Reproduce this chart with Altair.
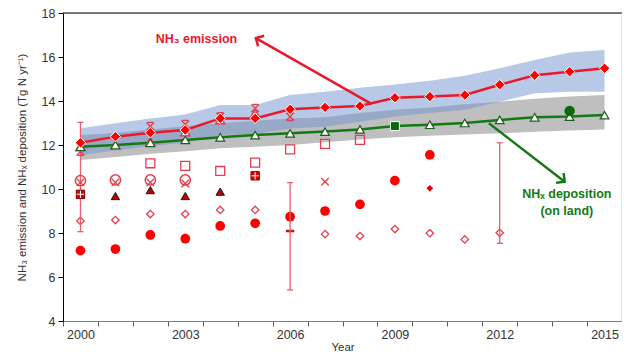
import math
import altair as alt
import pandas as pd

# ---------------- data ----------------
years = list(range(2000, 2016))
nh3_emission = [12.10, 12.38, 12.56, 12.68, 13.21, 13.21, 13.62, 13.71,
                13.77, 14.15, 14.20, 14.27, 14.74, 15.17, 15.33, 15.49]
nhx_deposition = [11.92, 12.00, 12.10, 12.23, 12.35, 12.45, 12.53, 12.61,
                  12.71, 12.86, 12.92, 13.00, 13.14, 13.26, 13.29, 13.36]
emis_hi = [12.76, 12.99, 13.21, 13.39, 13.82, 13.82, 14.27, 14.42,
           14.60, 14.75, 14.92, 15.15, 15.49, 15.86, 16.20, 16.32]
emis_lo = [11.55, 11.75, 11.95, 12.10, 12.45, 12.50, 12.75, 12.83,
           13.06, 13.30, 13.45, 13.60, 13.97, 14.35, 14.42, 14.42]
depo_hi = [12.45, 12.55, 12.70, 12.85, 12.99, 13.10, 13.20, 13.26,
           13.45, 13.60, 13.70, 13.85, 13.97, 14.10, 14.20, 14.27]
depo_lo = [11.32, 11.45, 11.60, 11.72, 11.85, 11.92, 12.00, 12.12,
           12.25, 12.35, 12.42, 12.48, 12.53, 12.60, 12.66, 12.71]

open_tri_years = [2000, 2001, 2002, 2003, 2004, 2005]
open_tri_vals = [11.92, 12.00, 12.15, 12.60, 13.14, 13.44]

aster_years = [2000, 2002, 2003, 2004, 2005, 2006]
aster_vals = [11.70, 12.85, 12.94, 13.29, 13.67, 13.29]

open_circ_years = [2000, 2001, 2002, 2003]
open_circ_vals = [10.38, 10.41, 10.41, 10.41]

xmark_years = [2000, 2001, 2002, 2003, 2007]
xmark_vals = [10.30, 10.30, 10.30, 10.25, 10.33]

open_sq_years = [2002, 2003, 2004, 2005, 2006, 2007, 2008]
open_sq_vals = [11.17, 11.05, 10.82, 11.20, 11.80, 12.05, 12.23]

fill_sq_years = [2000, 2005]
fill_sq_vals = [9.76, 10.60]

dark_tri_years = [2000, 2001, 2002, 2003, 2004]
dark_tri_vals = [9.76, 9.68, 9.95, 9.68, 9.88]

open_dia_years = [2000, 2001, 2002, 2003, 2004, 2005, 2007, 2008, 2009, 2010, 2011, 2012]
open_dia_vals = [8.55, 8.59, 8.86, 8.86, 9.05, 9.05, 7.95, 7.86, 8.18, 7.99, 7.71, 8.01]

fill_circ_years = [2000, 2001, 2002, 2003, 2004, 2005, 2006, 2007, 2008, 2009, 2010]
fill_circ_vals = [7.20, 7.27, 7.91, 7.74, 8.32, 8.44, 8.74, 9.00, 9.30, 10.38, 11.55]

small_dia_years = [2010]
small_dia_vals = [10.03]

dash_years = [2006]
dash_vals = [8.09]

green_sq_years = [2009]
green_sq_vals = [12.86]

green_circ_years = [2014]
green_circ_vals = [13.55]

err_years = [2000, 2006, 2012]
err_lo = [8.06, 5.41, 7.53]
err_hi = [13.03, 10.29, 12.10]

# annotation anchors (data coordinates)
red_arrow = [2008.34, 13.86, 2005.02, 16.86]
green_arrow = [2011.69, 12.99, 2013.86, 10.33]
red_label = ["NH\u2083 emission", 2003.32, 16.80]
green_label = ["NH\u2093 deposition", "(on land)", 2013.92, 9.77, 9.00]

# ---------------- chart ----------------
W, H = 559, 308
X0, X1 = 1999.5, 2015.5
Y0, Y1 = 4, 18
FONT = "Liberation Sans"
RED = "#e8192c"
ORED = "#e2404c"
GREEN = "#137a13"

xs = alt.Scale(domain=[X0, X1], nice=False, zero=False)
ys = alt.Scale(domain=[Y0, Y1], nice=False, zero=False)

x_axis = alt.Axis(
    values=[X0 + i for i in range(17)],
    labelExpr="((datum.value + 0.5) % 3 == 2) ? toString(datum.value + 0.5) : ''",
    labelOffset=W / 16 / 2,
    labelFlush=False,
    labelOverlap=False,
    tickSize=5,
    grid=False,
    title="Year",
    titleFontSize=11.5,
    titleFontWeight="normal",
    titleColor="#333333",
    titleY=20,
    titleBaseline="top",
    labelFontSize=12.5,
    labelColor="#333333",
    labelPadding=2,
    domainColor="#7f7f7f",
    tickColor="#595959",
    labelFont=FONT,
    titleFont=FONT,
)
y_axis = alt.Axis(
    values=[4, 6, 8, 10, 12, 14, 16, 18],
    tickSize=5,
    grid=False,
    title="NH\u2083 emission and NH\u2093 deposition (Tg N yr\u207b\u00b9)",
    titleFontSize=11.5,
    titleFontWeight="normal",
    titleColor="#333333",
    titlePadding=14,
    labelFontSize=12.5,
    labelColor="#333333",
    labelPadding=3,
    domainColor="#000000",
    tickColor="#000000",
    labelFont=FONT,
    titleFont=FONT,
)


def X(field):
    return alt.X(field, type="quantitative", scale=xs, axis=x_axis)


def Y(field):
    return alt.Y(field, type="quantitative", scale=ys, axis=y_axis)


bands = pd.DataFrame({"year": years, "ehi": emis_hi, "elo": emis_lo,
                      "dhi": depo_hi, "dlo": depo_lo,
                      "emis": nh3_emission, "depo": nhx_deposition})

layers = []
layers.append(alt.Chart(bands).mark_area(color="#bfbfbf").encode(
    x=X("year"), y=Y("dhi"), y2="dlo"))
layers.append(alt.Chart(bands).mark_area(color="#6f93d0", opacity=0.5).encode(
    x=X("year"), y=Y("ehi"), y2="elo"))


def pts(yrs, vals, **kw):
    df = pd.DataFrame({"year": yrs, "v": vals})
    return alt.Chart(df).mark_point(**kw).encode(x=X("year"), y=Y("v"))


XPATH = "M-1,-1L1,1M-1,1L1,-1"
ASTER = "M-1,-1L1,1M-1,1L1,-1M-0.7,-1L0.7,-1M-0.7,1L0.7,1"
ARROW = "M-1,1L0,0L1,1"

# lower scatter groups
layers.append(pts(fill_circ_years, fill_circ_vals, shape="circle", filled=True,
                  color="#ff0000", size=95, opacity=1))
layers.append(pts(open_dia_years, open_dia_vals, shape="diamond", filled=False,
                  color=ORED, size=55, strokeWidth=1.3, opacity=1))
layers.append(pts(dash_years, dash_vals, shape="stroke", filled=False,
                  color="#c0101c", size=70, strokeWidth=2.5, opacity=1))

# error bars
err = pd.DataFrame({"year": err_years, "lo": err_lo, "hi": err_hi})
layers.append(alt.Chart(err).mark_rule(color="#e8606a", strokeWidth=1.3).encode(
    x=X("year"), y=Y("lo"), y2="hi"))
layers.append(alt.Chart(err).mark_point(shape="M-1,0L1,0", filled=False, color="#e8606a",
                                        size=36, strokeWidth=1.3, opacity=1).encode(
    x=X("year"), y=Y("lo")))
layers.append(alt.Chart(err).mark_point(shape="M-1,0L1,0", filled=False, color="#e8606a",
                                        size=36, strokeWidth=1.3, opacity=1).encode(
    x=X("year"), y=Y("hi")))

layers.append(pts(dark_tri_years, dark_tri_vals, shape="triangle-up", filled=True,
                  fill="#c00000", stroke="#1a1a1a", strokeWidth=1, size=70, opacity=1))
layers.append(pts(fill_sq_years, fill_sq_vals, shape="square", filled=True,
                  fill="#e00000", stroke="#900000", strokeWidth=1, size=70, opacity=1))
layers.append(pts(fill_sq_years, fill_sq_vals, shape="M-1,0L1,0M0,-1L0,1", filled=False,
                  stroke="#ffffff", strokeWidth=1, size=55, opacity=1))
layers.append(pts(open_sq_years, open_sq_vals, shape="square", filled=False,
                  color=ORED, size=80, strokeWidth=1.3, opacity=1))
layers.append(pts(open_circ_years, open_circ_vals, shape="circle", filled=False,
                  color=ORED, size=105, strokeWidth=1.5, opacity=1))
layers.append(pts(xmark_years, xmark_vals, shape=XPATH, filled=False,
                  color=ORED, size=55, strokeWidth=1.3, opacity=1))
layers.append(pts(small_dia_years, small_dia_vals, shape="diamond", filled=True,
                  color="#e00000", size=45, opacity=1))

# main lines
layers.append(alt.Chart(bands).mark_line(color=GREEN, strokeWidth=2.5).encode(
    x=X("year"), y=Y("depo")))
layers.append(alt.Chart(bands).mark_line(color=RED, strokeWidth=2.5).encode(
    x=X("year"), y=Y("emis")))

layers.append(pts(open_tri_years, open_tri_vals, shape="triangle-up", filled=True,
                  fill="#ffffff", stroke=ORED, strokeWidth=1.5, size=80, opacity=1))
layers.append(pts(aster_years, aster_vals, shape=ASTER, filled=False,
                  color=ORED, size=60, strokeWidth=1.3, opacity=1))

layers.append(pts(years, nhx_deposition, shape="triangle-up", filled=True,
                  fill="#ffffff", stroke="#1e5e1e", strokeWidth=1.2, size=75, opacity=1))
layers.append(pts(years, nh3_emission, shape="diamond", filled=True,
                  fill="#ff0000", stroke="#ffffff", strokeWidth=1, size=110, opacity=1))
layers.append(pts(green_sq_years, green_sq_vals, shape="square", filled=True,
                  fill="#0a6a0a", stroke="#ffffff", strokeWidth=1, size=80, opacity=1))
layers.append(pts(green_circ_years, green_circ_vals, shape="circle", filled=True,
                  color="#0a6a0a", size=110, opacity=1))


# arrows
def arrow(spec, color):
    x1, y1, x2, y2 = spec
    df = pd.DataFrame({"x1": [x1], "y1": [y1], "x2": [x2], "y2": [y2]})
    dx = (x2 - x1) * W / (X1 - X0)
    dy = -(y2 - y1) * H / (Y1 - Y0)
    ang = math.degrees(math.atan2(dx, -dy)) % 360
    line = alt.Chart(df).mark_rule(color=color, strokeWidth=2.5).encode(
        x=X("x1"), y=Y("y1"), x2="x2", y2="y2")
    head = alt.Chart(df).mark_point(shape=ARROW, filled=False, color=color, size=150,
                                    strokeWidth=2.5, angle=ang, opacity=1).encode(
        x=X("x2"), y=Y("y2"))
    return [line, head]


layers += arrow(red_arrow, RED)
layers += arrow(green_arrow, GREEN)

lab1 = pd.DataFrame({"t": [red_label[0]], "x": [red_label[1]], "y": [red_label[2]]})
layers.append(alt.Chart(lab1).mark_text(font=FONT, fontSize=12.5, fontWeight="bold",
                                        color=RED, align="center", baseline="middle").encode(
    x=X("x"), y=Y("y"), text="t"))
lab2 = pd.DataFrame({"t": [green_label[0], green_label[1]],
                     "x": [green_label[2], green_label[2]],
                     "y": [green_label[3], green_label[4]]})
layers.append(alt.Chart(lab2).mark_text(font=FONT, fontSize=12.5, fontWeight="bold",
                                        color=GREEN, align="center", baseline="middle").encode(
    x=X("x"), y=Y("y"), text="t"))

# frame: top and right edges
frame = pd.DataFrame({"top": [Y1], "right": [X1]})
layers.append(alt.Chart(frame).mark_rule(color="#000000", strokeWidth=1).encode(y=Y("top")))
layers.append(alt.Chart(frame).mark_rule(color="#d0d0d0", strokeWidth=1).encode(x=X("right")))

chart = alt.layer(*layers).properties(
    width=W, height=H,
    autosize=alt.AutoSizeParams(type="none"),
    padding={"left": 55, "top": 5, "right": 0, "bottom": 33},
).configure_view(stroke=None).configure(background="#ffffff")

chart.save("out.html", embed_options={"renderer": "svg", "actions": False})
